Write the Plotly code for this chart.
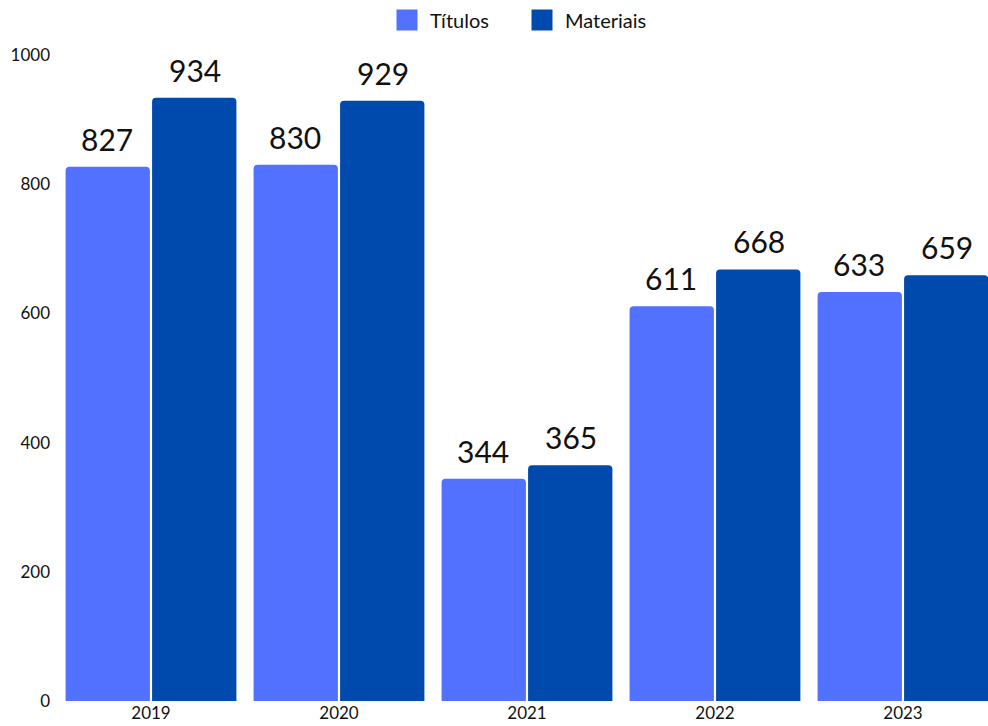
import plotly.graph_objects as go

years = ["2019", "2020", "2021", "2022", "2023"]
titulos = [827, 830, 344, 611, 633]
materiais = [934, 929, 365, 668, 659]
yticks = [0, 200, 400, 600, 800, 1000]

FONT = "Lato"
C_T = "#5271FF"
C_M = "#004AAD"

fig = go.Figure()
fig.add_trace(go.Bar(name="Títulos", x=years, y=titulos, marker_color=C_T,
                     marker_line_width=0, showlegend=False))
fig.add_trace(go.Bar(name="Materiais", x=years, y=materiais, marker_color=C_M,
                     marker_line_width=0, showlegend=False))
# legend proxies with square swatches
for nm, c in [("Títulos", C_T), ("Materiais", C_M)]:
    fig.add_trace(go.Scatter(x=[None], y=[None], mode="markers", name=nm,
                             marker=dict(symbol="square", size=16, color=c,
                                         line=dict(width=5, color=c))))

# value labels above bars
for vals, dx in [(titulos, -44), (materiais, 44)]:
    for i, v in enumerate(vals):
        fig.add_annotation(x=i, y=v, text=str(v), showarrow=False,
                           xanchor="center", yanchor="bottom", xshift=dx, yshift=8,
                           font=dict(size=30, color="#111111", family=FONT))

W = 988
fig.update_layout(
    width=W, height=726,
    margin=dict(l=57, r=0, t=55, b=25, autoexpand=False),
    barmode="group", bargap=0.08, bargroupgap=0.025,
    barcornerradius=4,
    plot_bgcolor="white", paper_bgcolor="white",
    font=dict(family=FONT, color="#111111", size=17),
    legend=dict(orientation="h", x=519 / W, xanchor="center", xref="container",
                y=0.9725, yanchor="middle", yref="container",
                font=dict(size=20), itemwidth=36, entrywidth=84, tracegroupgap=0),
    xaxis=dict(type="category", range=[-0.5, -0.5 + (W - 57) / 188], showgrid=False,
               showline=False, ticks="", tickfont=dict(size=17)),
    yaxis=dict(range=[0, 1000], tickvals=yticks, showgrid=False, zeroline=False,
               showline=False, ticks="", tickfont=dict(size=17), ticklabelstandoff=6),
)
fig.update_traces(cliponaxis=False, selector=dict(type="bar"))
fig.write_html("out.html", config={"displayModeBar": False},
               post_script=("document.documentElement.style.overflow='hidden';"
                            "document.body.style.margin='0';"
                            "document.body.style.overflow='hidden';"))
